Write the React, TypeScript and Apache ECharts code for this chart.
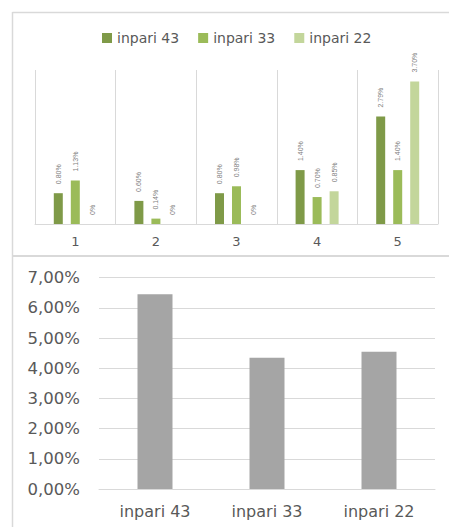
import React, { useEffect, useRef } from "react";
import * as echarts from "echarts";

const groupCategories = ["1", "2", "3", "4", "5"];
const seriesNames = ["inpari 43", "inpari 33", "inpari 22"];
const inpari43 = [0.8, 0.6, 0.8, 1.4, 2.79];
const inpari33 = [1.13, 0.14, 0.98, 0.7, 1.4];
const inpari22 = [0, 0, 0, 0.85, 3.7];
const totalCategories = ["inpari 43", "inpari 33", "inpari 22"];
const totalValues = [6.45, 4.35, 4.55];
const seriesColors = ["#7F9A48", "#9BBB59", "#C3D69B"];

const FONT = "DejaVu Sans";

export default function App() {
  const ref = useRef<HTMLDivElement>(null);
  useEffect(() => {
    if (!ref.current) return;
    const chart = echarts.init(ref.current, undefined, { renderer: "svg" });
    const groupData = [inpari43, inpari33, inpari22];
    const fmtTop = (p: any) => {
      const v = p.value as number;
      return v === 0 ? "0%" : v.toFixed(2) + "%";
    };
    const topSeries = seriesNames.map((name, i) => ({
      name,
      type: "bar",
      xAxisIndex: 0,
      yAxisIndex: 0,
      data: groupData[i],
      barWidth: 9,
      barGap: "89%",
      itemStyle: { color: seriesColors[i] },
      label: {
        show: true,
        position: "top",
        rotate: 90,
        align: "left",
        verticalAlign: "middle",
        distance: 9,
        fontSize: 7,
        fontFamily: "Liberation Sans",
        color: "#808080",
        formatter: fmtTop,
      },
    }));
    chart.setOption({
      animation: false,
      backgroundColor: "#ffffff",
      legend: {
        data: seriesNames,
        left: 97,
        top: 26,
        icon: "rect",
        itemWidth: 10,
        itemHeight: 10,
        itemGap: 19,
        textStyle: { fontSize: 14, color: "#595959", fontFamily: FONT },
      },
      grid: [
        { left: 35, right: 11, top: 70, bottom: 303 },
        { left: 99, right: 14, top: 277.7, bottom: 38 },
      ],
      xAxis: [
        {
          type: "category",
          gridIndex: 0,
          data: groupCategories,
          axisLine: { show: true, lineStyle: { color: "#d9d9d9", width: 1 } },
          axisTick: { show: false },
          splitLine: { show: true, lineStyle: { color: "#d9d9d9", width: 1 } },
          axisLabel: { fontSize: 13, color: "#595959", fontFamily: FONT, margin: 11 },
        },
        {
          type: "category",
          gridIndex: 1,
          data: totalCategories,
          axisLine: { show: true, lineStyle: { color: "#d9d9d9", width: 1 } },
          axisTick: { show: false },
          axisLabel: { fontSize: 16, color: "#595959", fontFamily: FONT, margin: 14 },
        },
      ],
      yAxis: [
        {
          type: "value",
          gridIndex: 0,
          min: 0,
          max: 4,
          show: false,
          splitLine: { show: false },
        },
        {
          type: "value",
          gridIndex: 1,
          min: 0,
          max: 7,
          interval: 1,
          axisLine: { show: false },
          axisTick: { show: false },
          splitLine: { show: true, lineStyle: { color: "#d9d9d9", width: 1 } },
          axisLabel: {
            fontSize: 16.5,
            color: "#595959",
            fontFamily: FONT,
            margin: 19,
            formatter: (v: number) => v.toFixed(2).replace(".", ",") + "%",
          },
        },
      ],
      series: [
        ...topSeries,
        {
          name: "total",
          type: "bar",
          xAxisIndex: 1,
          yAxisIndex: 1,
          data: totalValues,
          barWidth: 35,
          itemStyle: { color: "#A5A5A5" },
        },
      ],
      graphic: [
        {
          type: "line",
          shape: { x1: 12.5, y1: 12.5, x2: 449, y2: 12.5 },
          style: { stroke: "#d9d9d9", lineWidth: 1.5 },
        },
        {
          type: "line",
          shape: { x1: 12.5, y1: 12, x2: 12.5, y2: 527 },
          style: { stroke: "#d9d9d9", lineWidth: 1.5 },
        },
        {
          type: "line",
          shape: { x1: 12, y1: 256, x2: 449, y2: 256 },
          style: { stroke: "#d9d9d9", lineWidth: 2 },
        },
      ],
    });
    return () => chart.dispose();
  }, []);
  return (
    <div
      ref={ref}
      style={{ position: "absolute", left: 0, top: 0, width: 449, height: 527 }}
    />
  );
}
